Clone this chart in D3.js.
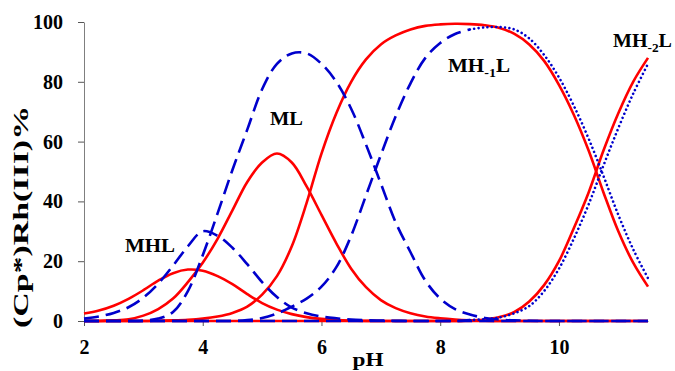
<!DOCTYPE html>
<html>
<head>
<meta charset="utf-8">
<script src="https://cdn.jsdelivr.net/npm/d3@7"></script>
<style>
  body { margin: 0; background: #fff; }
  svg text { font-family: "Liberation Serif", "Times New Roman", serif; font-weight: bold; fill: #000; }
  .tick text { font-size: 20px; }
  .domain, .tick line { stroke: #7f7f7f; stroke-width: 1; }
</style>
</head>
<body>
<svg id="chart" width="675" height="371"></svg>
<script>
// pH points
const pH = [2, 2.25, 2.5, 2.75, 3, 3.25, 3.5, 3.75, 4, 4.25, 4.5, 4.75, 5, 5.25, 5.5, 5.75,
  6, 6.25, 6.5, 6.75, 7, 7.25, 7.5, 7.75, 8, 8.25, 8.5, 8.75, 9, 9.25, 9.5, 9.75,
  10, 10.25, 10.5, 10.75, 11, 11.25, 11.5];

// red solid curves
const redMHL = [2.5, 3.5, 5.1, 7.4, 10.3, 13.5, 16, 17.2, 16.8, 15, 12.3, 9, 6, 3.8, 2.3, 1.3,
  0.7, 0.35, 0.15, 0.05, 0, 0, 0, 0, 0, 0, 0, 0, 0, 0, 0, 0,
  0, 0, 0, 0, 0, 0, 0];
const redML = [0, 0, 0.2, 0.6, 1.8, 4, 7.5, 13, 19.5, 27.5, 37, 46.5, 53, 56, 53, 45,
  35.5, 26, 17.5, 11.3, 7, 4.3, 2.6, 1.5, 0.9, 0.5, 0.25, 0.1, 0, 0, 0, 0,
  0, 0, 0, 0, 0, 0, 0];
const redMH1L = [0, 0, 0, 0, 0, 0.1, 0.2, 0.4, 0.8, 1.5, 2.7, 4.8, 8.8, 15, 25, 39.5,
  56, 69.5, 80, 87.5, 92.5, 95.5, 97.5, 98.7, 99.2, 99.4, 99.3, 98.9, 98, 96, 92.5, 87,
  79, 69, 57, 43, 30, 19.5, 11.5];
const redMH2L = [0, 0, 0, 0, 0, 0, 0, 0, 0, 0, 0, 0, 0, 0, 0, 0,
  0, 0, 0, 0, 0, 0, 0, 0, 0, 0, 0.2, 0.5, 1.3, 3, 6.5, 12,
  20, 31, 43, 57, 69.5, 80, 88];

// blue curves (dashed, dotted above pH 8.5)
const blueMHL = [0.8, 1.5, 2.7, 4.6, 7.8, 12.5, 18.5, 25, 30, 28.5, 24.5, 19, 13, 8, 4.5, 2.6,
  1.5, 0.9, 0.5, 0.3, 0.15, 0.05, 0, 0, 0, 0, 0, 0, 0, 0, 0, 0,
  0, 0, 0, 0, 0, 0, 0];
const blueML = [0, 0, 0, 0, 0.1, 0.8, 3, 10, 22, 36, 50.5, 64, 77.5, 86, 89.5, 89.5,
  86, 80, 71, 59, 46, 33, 23, 13.5, 7.5, 4, 2.2, 1, 0.5, 0.2, 0.1, 0,
  0, 0, 0, 0, 0, 0, 0];
const blueMH1L = [0, 0, 0, 0, 0, 0, 0, 0, 0, 0, 0, 0.3, 1, 2.5, 4.8, 7.5,
  11.5, 18, 28.5, 42, 55.5, 68.5, 79.5, 88, 93, 96, 97.5, 98.2, 98.3, 97.5, 94.5, 89,
  81.5, 72, 61, 48.5, 35.5, 24, 14.3];
const blueMH2L = [0, 0, 0, 0, 0, 0, 0, 0, 0, 0, 0, 0, 0, 0, 0, 0,
  0, 0, 0, 0, 0, 0, 0, 0, 0, 0, 0.3, 0.6, 1.2, 2.6, 5, 10,
  17.5, 27.5, 39, 52, 64.5, 76, 86];

const xTicks = [2, 4, 6, 8, 10];
const yTicks = [0, 20, 40, 60, 80, 100];
const dotFrom = 8.5;

const svg = d3.select("svg#chart");
const x = d3.scaleLinear().domain([2, 11.5]).range([84, 648]);
const y = d3.scaleLinear().domain([0, 100]).range([321, 22]);

// axes
svg.append("g")
  .attr("transform", "translate(84,0)")
  .call(d3.axisLeft(y).tickValues(yTicks).tickSize(6).tickSizeOuter(0).tickPadding(15));

svg.append("g")
  .attr("transform", "translate(0,321)")
  .call(d3.axisBottom(x).tickValues(xTicks).tickSize(5).tickSizeOuter(0))
  .selectAll("text")
  .attr("dy", null)
  .attr("y", 33);

svg.selectAll(".tick line").style("stroke", "#555");

// curves
const line = d3.line()
  .x(d => x(d[0]))
  .y(d => y(d[1]))
  .curve(d3.curveCatmullRom.alpha(0.5));

function pts(vals, lo, hi) {
  return pH.map((p, i) => [p, vals[i]]).filter(d => d[0] >= lo && d[0] <= hi);
}

function draw(data, color, dash) {
  let p = svg.append("path")
    .attr("d", line(data))
    .attr("fill", "none")
    .attr("stroke", color)
    .attr("stroke-width", 2.6);
  if (dash == "dash") {
    p.attr("stroke-dasharray", "15,7");
  }
  if (dash == "dot") {
    p.attr("stroke-dasharray", "0.01,4.4").attr("stroke-linecap", "round");
  }
}

[redMHL, redML, redMH1L, redMH2L].forEach(function (v) {
  draw(pts(v, 2, 11.5), "#ff0000", "solid");
});

[blueMHL, blueML].forEach(function (v) {
  draw(pts(v, 2, 11.5), "#0000cc", "dash");
});
[blueMH1L, blueMH2L].forEach(function (v) {
  draw(pts(v, 2, dotFrom), "#0000cc", "dash");
  draw(pts(v, dotFrom, 11.5), "#0000cc", "dot");
});

// titles
svg.append("text")
  .attr("transform", "translate(28,217) rotate(-90) scale(1.54,1)")
  .attr("text-anchor", "middle")
  .attr("font-size", 22)
  .text("(Cp*)Rh(III)%");

svg.append("text")
  .attr("x", 368)
  .attr("y", 366)
  .attr("text-anchor", "middle")
  .attr("font-size", 19)
  .attr("textLength", 31)
  .attr("lengthAdjust", "spacingAndGlyphs")
  .text("pH");

// species labels
function label(px, py, main, sub, tail, len) {
  let t = svg.append("text")
    .attr("x", px)
    .attr("y", py)
    .attr("font-size", 18)
    .attr("textLength", len)
    .attr("lengthAdjust", "spacingAndGlyphs");
  t.append("tspan").text(main);
  if (sub) {
    t.append("tspan").attr("font-size", 12).attr("dy", 5).text(sub);
    t.append("tspan").attr("dy", -5).text(tail);
  }
}

label(125, 252, "MHL", null, null, 50);
label(270, 125, "ML", null, null, 33);
label(448, 72, "MH", "-1", "L", 62);
label(613, 47, "MH", "-2", "L", 59);
</script>
</body>
</html>
